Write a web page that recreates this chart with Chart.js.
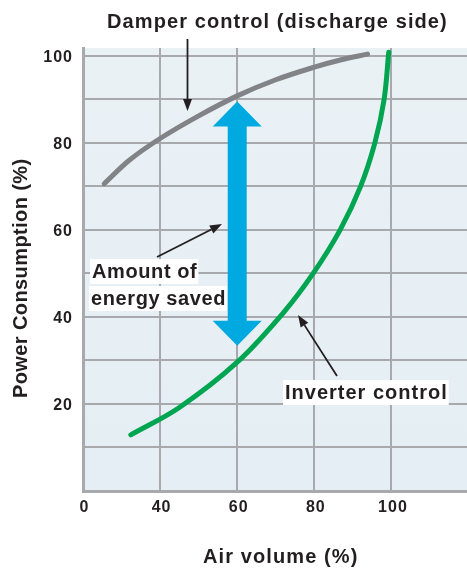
<!DOCTYPE html>
<html>
<head>
<meta charset="utf-8">
<script src="https://cdn.jsdelivr.net/npm/chart.js@4.4.1/dist/chart.umd.min.js"></script>
<style>
  body { margin: 0; background: #fff; }
  canvas { display: block; }
</style>
</head>
<body>
<canvas id="chart" width="467" height="570"></canvas>
<script>
// axis starts at 20 on the x scale but is labelled "0" (broken axis)
const xTicks = [20, 40, 60, 80, 100];
const xTickLabels = ["0", "40", "60", "80", "100"];
const yTickLabels = [20, 40, 60, 80, 100];

// damper control (gray)
const damperX = [25.5, 32, 40, 50, 60, 70, 80, 87, 93.8];
const damperY = [70.6, 76, 81.0, 86.2, 90.8, 94.5, 97.4, 99.1, 100.4];

// inverter control (green)
const inverterX = [32.4, 45, 60, 72, 79.7, 86.7, 92, 95.7, 98.1, 99.3];
const inverterY = [12.9, 19.2, 29.6, 41, 50, 60, 70, 80, 90, 100.8];

// energy-saved double arrow
const savedX = 60;
const savedTop = 89.5;
const savedBottom = 33.4;

const FONT = "'Liberation Sans', Arial, sans-serif";
const INK = "#231f20";

const el = (id) => document.getElementById(id);
const pts = (xs, ys) => xs.map((x, i) => ({ x: x, y: ys[i] }));

function arrowLine(ctx, x1, y1, x2, y2){
  ctx.save();
  ctx.strokeStyle = INK;
  ctx.fillStyle = INK;
  ctx.lineWidth = 1.8;
  const a = Math.atan2(y2 - y1, x2 - x1);
  const hl = 12, hw = 4.5;
  const bx = x2 - Math.cos(a) * hl, by = y2 - Math.sin(a) * hl;
  ctx.beginPath();
  ctx.moveTo(x1, y1);
  ctx.lineTo(bx, by);
  ctx.stroke();
  ctx.beginPath();
  ctx.moveTo(x2, y2);
  ctx.lineTo(bx - Math.sin(a) * hw, by + Math.cos(a) * hw);
  ctx.lineTo(bx + Math.sin(a) * hw, by - Math.cos(a) * hw);
  ctx.closePath();
  ctx.fill();
  ctx.restore();
}

function boxedText(ctx, text, x, y){
  const w = ctx.measureText(text).width;
  ctx.fillStyle = "#fff";
  ctx.fillRect(x - 2, y - 12, w + 3, 25);
  ctx.fillStyle = INK;
  ctx.fillText(text, x, y + 1);
}

const bgPlugin = {
  id: "bg",
  beforeDraw(chart){
    const { ctx, chartArea: a } = chart;
    const g = ctx.createLinearGradient(0, a.top, 0, a.bottom);
    g.addColorStop(0, "#e9f1f5");
    g.addColorStop(1, "#e5eef4");
    ctx.save();
    ctx.fillStyle = g;
    ctx.fillRect(a.left, a.top, a.right - a.left, a.bottom - a.top);
    ctx.restore();
  }
};

const notesPlugin = {
  id: "notes",
  afterDatasetsDraw(chart){
    const { ctx, scales: { x, y } } = chart;
    ctx.save();

    // blue double arrow
    const cx = x.getPixelForValue(savedX);
    const top = y.getPixelForValue(savedTop);
    const bot = y.getPixelForValue(savedBottom);
    const sw = 9.5, hw = 24.5, hh = 25;
    ctx.fillStyle = "#00a9e0";
    ctx.beginPath();
    ctx.moveTo(cx, top);
    ctx.lineTo(cx + hw, top + hh);
    ctx.lineTo(cx + sw, top + hh);
    ctx.lineTo(cx + sw, bot - hh);
    ctx.lineTo(cx + hw, bot - hh);
    ctx.lineTo(cx, bot);
    ctx.lineTo(cx - hw, bot - hh);
    ctx.lineTo(cx - sw, bot - hh);
    ctx.lineTo(cx - sw, top + hh);
    ctx.lineTo(cx - hw, top + hh);
    ctx.closePath();
    ctx.fill();

    // tick labels
    ctx.font = "bold 16px " + FONT;
    ctx.letterSpacing = "1px";
    ctx.fillStyle = INK;
    ctx.textBaseline = "middle";
    ctx.textAlign = "center";
    xTicks.forEach((v, i) => ctx.fillText(xTickLabels[i], x.getPixelForValue(v) + 1.5, 508));
    ctx.textAlign = "right";
    yTickLabels.forEach(v => ctx.fillText(String(v), 73, y.getPixelForValue(v) + 2));

    ctx.font = "bold 20px " + FONT;
    ctx.textAlign = "left";
    ctx.letterSpacing = "1.1px";
    ctx.fillText("Damper control (discharge side)", 107, 22);
    arrowLine(ctx, 187.5, 39, 187.5, 111);

    ctx.letterSpacing = "0.6px";
    boxedText(ctx, "Amount of", 92, 271);
    boxedText(ctx, "energy saved", 91, 298);
    arrowLine(ctx, 157, 257, 222, 224);

    ctx.letterSpacing = "1px";
    boxedText(ctx, "Inverter control", 285, 392);
    arrowLine(ctx, 337, 376, 298, 315);

    // axis titles
    ctx.letterSpacing = "1.1px";
    ctx.textAlign = "left";
    ctx.fillText("Air volume (%)", 203, 557);
    ctx.letterSpacing = "0.4px";
    ctx.translate(21, 398);
    ctx.rotate(-Math.PI / 2);
    ctx.fillText("Power Consumption (%)", 0, 0);
    ctx.restore();
  }
};

const ctx = el("chart").getContext("2d");
new Chart(ctx, {
  type: "line",
  data: {
    datasets: [
      { label: "Damper control", data: pts(damperX, damperY), borderColor: "#818386", borderWidth: 5, borderCapStyle: "round", pointRadius: 0, tension: 0.35 },
      { label: "Inverter control", data: pts(inverterX, inverterY), borderColor: "#00a551", borderWidth: 5, borderCapStyle: "round", pointRadius: 0, tension: 0.35 }
    ]
  },
  options: {
    responsive: false,
    animation: false,
    layout: { padding: { top: 48, right: 0, left: 0, bottom: 0 } },
    plugins: { legend: { display: false }, tooltip: { enabled: false } },
    scales: {
      x: {
        type: "linear",
        min: 20,
        max: 119.6,
        afterBuildTicks(s){ s.ticks = xTicks.map(v => ({ value: v })); },
        afterFit(s){ s.height = 79; },
        ticks: { display: false },
        grid: { color: "#a7a9ac", lineWidth: 2, drawTicks: false },
        border: { color: "#a7a9ac", width: 3 }
      },
      y: {
        min: 0,
        max: 101.8,
        afterBuildTicks(s){ s.ticks = [10, 20, 30, 40, 50, 60, 70, 80, 90, 100].map(v => ({ value: v })); },
        afterFit(s){ s.width = 83; },
        ticks: { display: false },
        grid: { color: "#a7a9ac", lineWidth: 2, drawTicks: false },
        border: { color: "#a7a9ac", width: 3 }
      }
    }
  },
  plugins: [bgPlugin, notesPlugin]
});
</script>
</body>
</html>
